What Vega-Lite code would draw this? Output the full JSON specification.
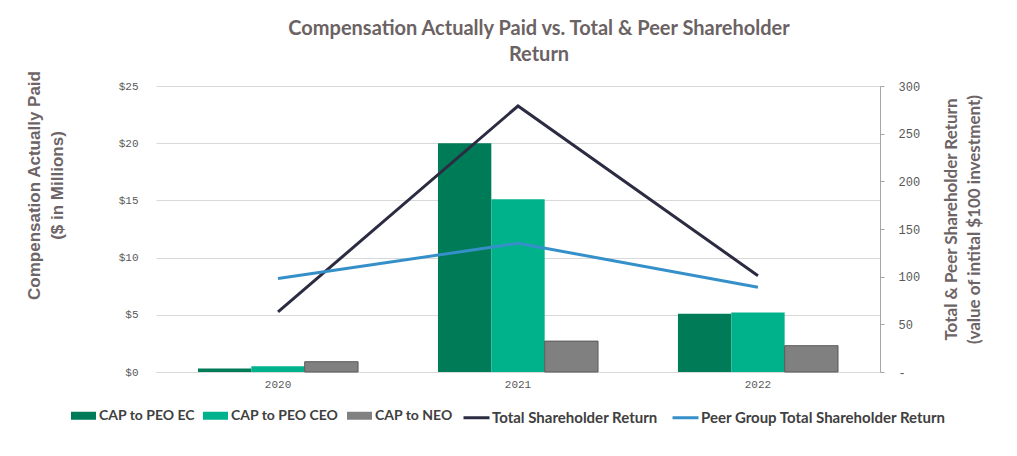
{
  "$schema": "https://vega.github.io/schema/vega-lite/v6.json",
  "width": 724,
  "height": 286,
  "autosize": {"type": "none"},
  "padding": {"left": 156, "top": 86, "right": 137, "bottom": 84},
  "background": "white",
  "title": {
    "text": ["Compensation Actually Paid vs. Total & Peer Shareholder", "Return"],
    "font": "Lato",
    "fontSize": 20,
    "fontWeight": "bold",
    "color": "#6b6264",
    "anchor": "middle",
    "dx": 21,
    "lineHeight": 26,
    "offset": 5
  },
  "datasets": {
    "bars": [
      {"year": "2020", "series": "CAP to PEO EC", "value": 0.3},
      {"year": "2020", "series": "CAP to PEO CEO", "value": 0.5},
      {"year": "2020", "series": "CAP to NEO", "value": 0.9},
      {"year": "2021", "series": "CAP to PEO EC", "value": 20.0},
      {"year": "2021", "series": "CAP to PEO CEO", "value": 15.1},
      {"year": "2021", "series": "CAP to NEO", "value": 2.7},
      {"year": "2022", "series": "CAP to PEO EC", "value": 5.1},
      {"year": "2022", "series": "CAP to PEO CEO", "value": 5.2},
      {"year": "2022", "series": "CAP to NEO", "value": 2.3}
    ],
    "lines": [
      {"year": "2020", "series": "Total Shareholder Return", "value": 63},
      {"year": "2021", "series": "Total Shareholder Return", "value": 279},
      {"year": "2022", "series": "Total Shareholder Return", "value": 101},
      {"year": "2020", "series": "Peer Group Total Shareholder Return", "value": 98},
      {"year": "2021", "series": "Peer Group Total Shareholder Return", "value": 135},
      {"year": "2022", "series": "Peer Group Total Shareholder Return", "value": 89}
    ]
  },
  "encoding": {
    "x": {
      "field": "year",
      "type": "nominal",
      "scale": {"paddingInner": 0.333, "paddingOuter": 0.175},
      "axis": {
        "title": null,
        "labelAngle": 0,
        "labelFont": "Liberation Mono",
        "labelFontSize": 11,
        "labelColor": "#595959",
        "labelPadding": 6,
        "ticks": false,
        "domain": true,
        "domainColor": "#d9d9d9"
      }
    }
  },
  "layer": [
    {
      "data": {"name": "bars"},
      "mark": {"type": "bar"},
      "encoding": {
        "xOffset": {"field": "series", "type": "nominal", "sort": ["CAP to PEO EC", "CAP to PEO CEO", "CAP to NEO"], "scale": {"paddingInner": 0, "paddingOuter": 0}},
        "y": {
          "field": "value",
          "type": "quantitative",
          "scale": {"domain": [0, 25]},
          "axis": {
            "title": ["Compensation Actually Paid", "($ in Millions)"],
            "titleFont": "Liberation Sans",
            "titleFontSize": 17,
            "titleFontWeight": "bold",
            "titleColor": "#6d6466",
            "titleAngle": -90,
            "titleX": -122,
            "titleY": 99,
            "titleAlign": "center",
            "titleBaseline": "middle",
            "titleLineHeight": 23,
            "values": [0, 5, 10, 15, 20, 25],
            "labelExpr": "'$' + datum.value",
            "labelFont": "Liberation Mono",
            "labelFontSize": 11,
            "labelColor": "#595959",
            "labelPadding": 18,
            "ticks": false,
            "domain": false,
            "grid": true,
            "gridColor": "#d9d9d9",
            "gridWidth": 1
          }
        },
        "color": {
          "field": "series",
          "type": "nominal",
          "sort": ["CAP to PEO EC", "CAP to PEO CEO", "CAP to NEO"],
          "scale": {"domain": ["CAP to PEO EC", "CAP to PEO CEO", "CAP to NEO"], "range": ["#007b57", "#00b28b", "#808080"]},
          "legend": {
            "title": null,
            "orient": "none",
            "direction": "horizontal",
            "legendX": -85,
            "legendY": 317,
            "symbolType": "M-1,-0.32H1V0.32H-1Z",
            "symbolSize": 625,
            "symbolStrokeWidth": 0,
            "labelFont": "Lato",
            "labelFontSize": 14,
            "labelFontWeight": "bold",
            "labelColor": "#404040",
            "labelOffset": 3,
            "labelLimit": 0,
            "columnPadding": 8,
            "symbolOpacity": 1
          }
        },
        "stroke": {
          "condition": {"test": "datum.series === 'CAP to NEO'", "value": "#595959"},
          "value": null
        },
        "strokeWidth": {"value": 1}
      }
    },
    {
      "data": {"name": "lines"},
      "mark": {"type": "line", "strokeWidth": 3},
      "encoding": {
        "y": {
          "field": "value",
          "type": "quantitative",
          "scale": {"domain": [0, 300]},
          "axis": {
            "orient": "right",
            "title": ["Total & Peer Shareholder Return", "(value of intital $100 investment)"],
            "titleFont": "Lato",
            "titleFontSize": 17,
            "titleFontWeight": "bold",
            "titleColor": "#6d6466",
            "titleAngle": -90,
            "titleX": 71,
            "titleY": 133,
            "titleAlign": "center",
            "titleBaseline": "middle",
            "titleLineHeight": 23,
            "values": [0, 50, 100, 150, 200, 250, 300],
            "labelExpr": "datum.value === 0 ? '-' : datum.label",
            "labelFont": "Liberation Mono",
            "labelFontSize": 12,
            "labelColor": "#595959",
            "labelPadding": 14,
            "ticks": true,
            "tickSize": 4,
            "tickColor": "#a6a6a6",
            "domain": true,
            "domainColor": "#a6a6a6",
            "grid": false
          }
        },
        "stroke": {
          "field": "series",
          "type": "nominal",
          "sort": ["Total Shareholder Return", "Peer Group Total Shareholder Return"],
          "scale": {"domain": ["Total Shareholder Return", "Peer Group Total Shareholder Return"], "range": ["#2b2c42", "#3590c9"]},
          "legend": {
            "title": null,
            "orient": "none",
            "direction": "horizontal",
            "legendX": 306,
            "legendY": 317,
            "symbolType": "stroke",
            "symbolSize": 676,
            "symbolStrokeWidth": 3,
            "labelFont": "Lato",
            "labelFontSize": 15,
            "labelFontWeight": "bold",
            "labelColor": "#404040",
            "labelOffset": 1,
            "labelLimit": 0,
            "columnPadding": 8
          }
        }
      }
    }
  ],
  "resolve": {"scale": {"y": "independent", "color": "independent", "stroke": "independent"}},
  "config": {"view": {"stroke": null}}
}
